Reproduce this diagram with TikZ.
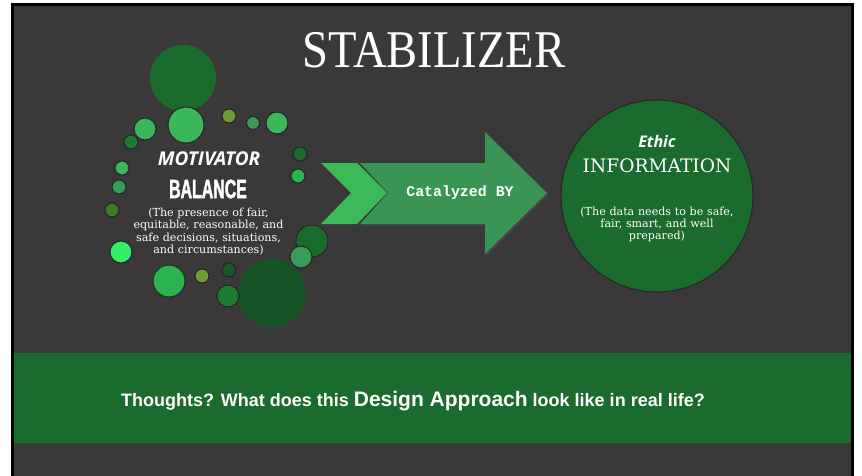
\documentclass[tikz,border=0pt]{standalone}
\usepackage{fontspec}
\setmainfont{DejaVu Serif}
\newfontfamily\titlefont[FakeStretch=0.88]{Liberation Serif}
\newfontfamily\osfont{Open Sans}
\newfontfamily\balfont[FakeStretch=0.6,FakeBold=1.5]{Liberation Sans Bold}
\newfontfamily\catfont{Liberation Mono}
\newfontfamily\bandfont{Liberation Sans}
\definecolor{bgdark}{HTML}{3A3839}
\definecolor{bandgreen}{HTML}{1B6B2E}
\definecolor{cbig}{HTML}{1B6B2D}
\definecolor{cbigdark}{HTML}{155224}
\definecolor{clight}{HTML}{3BB75A}
\definecolor{cmid}{HTML}{3A9A57}
\definecolor{cdark}{HTML}{1E7A32}
\definecolor{cdeep}{HTML}{17582A}
\definecolor{colive}{HTML}{6D9B34}
\definecolor{colivedark}{HTML}{3D7A26}
\definecolor{cbright}{HTML}{2BB44D}
\definecolor{cneon}{HTML}{33EE66}
\definecolor{chev}{HTML}{3BBA5A}
\definecolor{arrowgreen}{HTML}{3A9455}
\tikzset{
  dot/.style={draw=black!85, line width=1pt},
  whitetext/.style={text=white, inner sep=0pt, align=center},
}
\begin{document}
\begin{tikzpicture}[x=1pt,y=-1pt]
\useasboundingbox (0,0) rectangle (862,476);
\fill[white] (0,0) rectangle (862,476);
\fill[bgdark] (12.5,4.5) rectangle (852.5,476);
\draw[black,line width=3pt] (12.5,476) -- (12.5,4.5) -- (852.5,4.5) -- (852.5,476);
% band
\fill[bandgreen] (14,353) rectangle (851,443);
% title
\node[whitetext, font=\titlefont\fontsize{53}{53}\selectfont] (title) at (434,50) {STABILIZER};
% left decorative circles
\fill[cbig] (183,78) circle (33);
\fill[cbigdark] (272,293) circle (34);
\filldraw[dot, fill=clight] (186,125) circle (18);
\filldraw[dot, fill=clight] (145,129) circle (11);
\filldraw[dot, fill=cdark] (131,142) circle (7);
\filldraw[dot, fill=colive] (229,116) circle (7);
\filldraw[dot, fill=cmid] (253,123) circle (6.5);
\filldraw[dot, fill=clight] (277,123) circle (11);
\filldraw[dot, fill=cbig] (300,154) circle (7);
\filldraw[dot, fill=cbright] (298,176) circle (7);
\filldraw[dot, fill=clight] (122,168) circle (7);
\filldraw[dot, fill=cmid] (119,187) circle (7);
\filldraw[dot, fill=colivedark] (112,210) circle (7);
\filldraw[dot, fill=cneon] (121,252) circle (11);
\filldraw[dot, fill=cbig] (312,241) circle (16);
\filldraw[dot, fill=cmid] (301,257) circle (11);
\filldraw[dot, fill=cbright] (169,281) circle (16);
\filldraw[dot, fill=colive] (202,276) circle (7);
\filldraw[dot, fill=cdeep] (229,270) circle (7);
\filldraw[dot, fill=cdark] (228,296) circle (11);
% left texts
\node[whitetext, font=\osfont\bfseries\itshape\fontsize{19}{19}\selectfont] (mot) at (209,159) {MOTIVATOR};
\node[whitetext, font=\balfont\fontsize{26.5}{26.5}\selectfont] (bal) at (208,189) {BALANCE};
\node[whitetext, text width=170pt, font=\fontsize{11.1}{12.3}\selectfont] (baldesc) at (208.5,231.5) {(The presence of fair,\\ equitable, reasonable, and\\ safe decisions, situations,\\ and circumstances)};
% arrow
\fill[black!70, opacity=0.6] (361.5,164.5) -- (487,164.5) -- (487,133.5) -- (548.5,194.5) -- (487,255.5) -- (487,225.5) -- (361.5,225.5) -- (390,194.5) -- cycle;
\fill[chev] (321,163) -- (357,163) -- (387,193) -- (357,224) -- (321,224) -- (351,193) -- cycle;
\fill[arrowgreen] (360,163) -- (485,163) -- (485,132) -- (547,193) -- (485,254) -- (485,224) -- (360,224) -- (388,193) -- cycle;
\node[whitetext, font=\catfont\bfseries\fontsize{14.9}{14.9}\selectfont] (cat) at (460,193) {Catalyzed BY};
% right circle
\node[circle, draw=black!85, line width=1pt, fill=bandgreen, minimum size=192pt, inner sep=0pt] (info) at (657,196) {};
\node[whitetext, font=\osfont\bfseries\itshape\fontsize{16}{16}\selectfont] (ethic) at (657,142) {Ethic};
\node[whitetext, font=\fontsize{18.6}{18.6}\selectfont] (infot) at (657,166) {INFORMATION};
\node[whitetext, text width=175pt, font=\fontsize{11.1}{12.3}\selectfont] (infodesc) at (657,224.5) {(The data needs to be safe,\\ fair, smart, and well\\ prepared)};
% bottom question
\node[whitetext, font=\bandfont\bfseries\fontsize{18}{20}\selectfont] (q) at (413,401) {Thoughts? What does this {\fontsize{21}{22}\selectfont Design Approach} look like in real life?};
\end{tikzpicture}
\end{document}
